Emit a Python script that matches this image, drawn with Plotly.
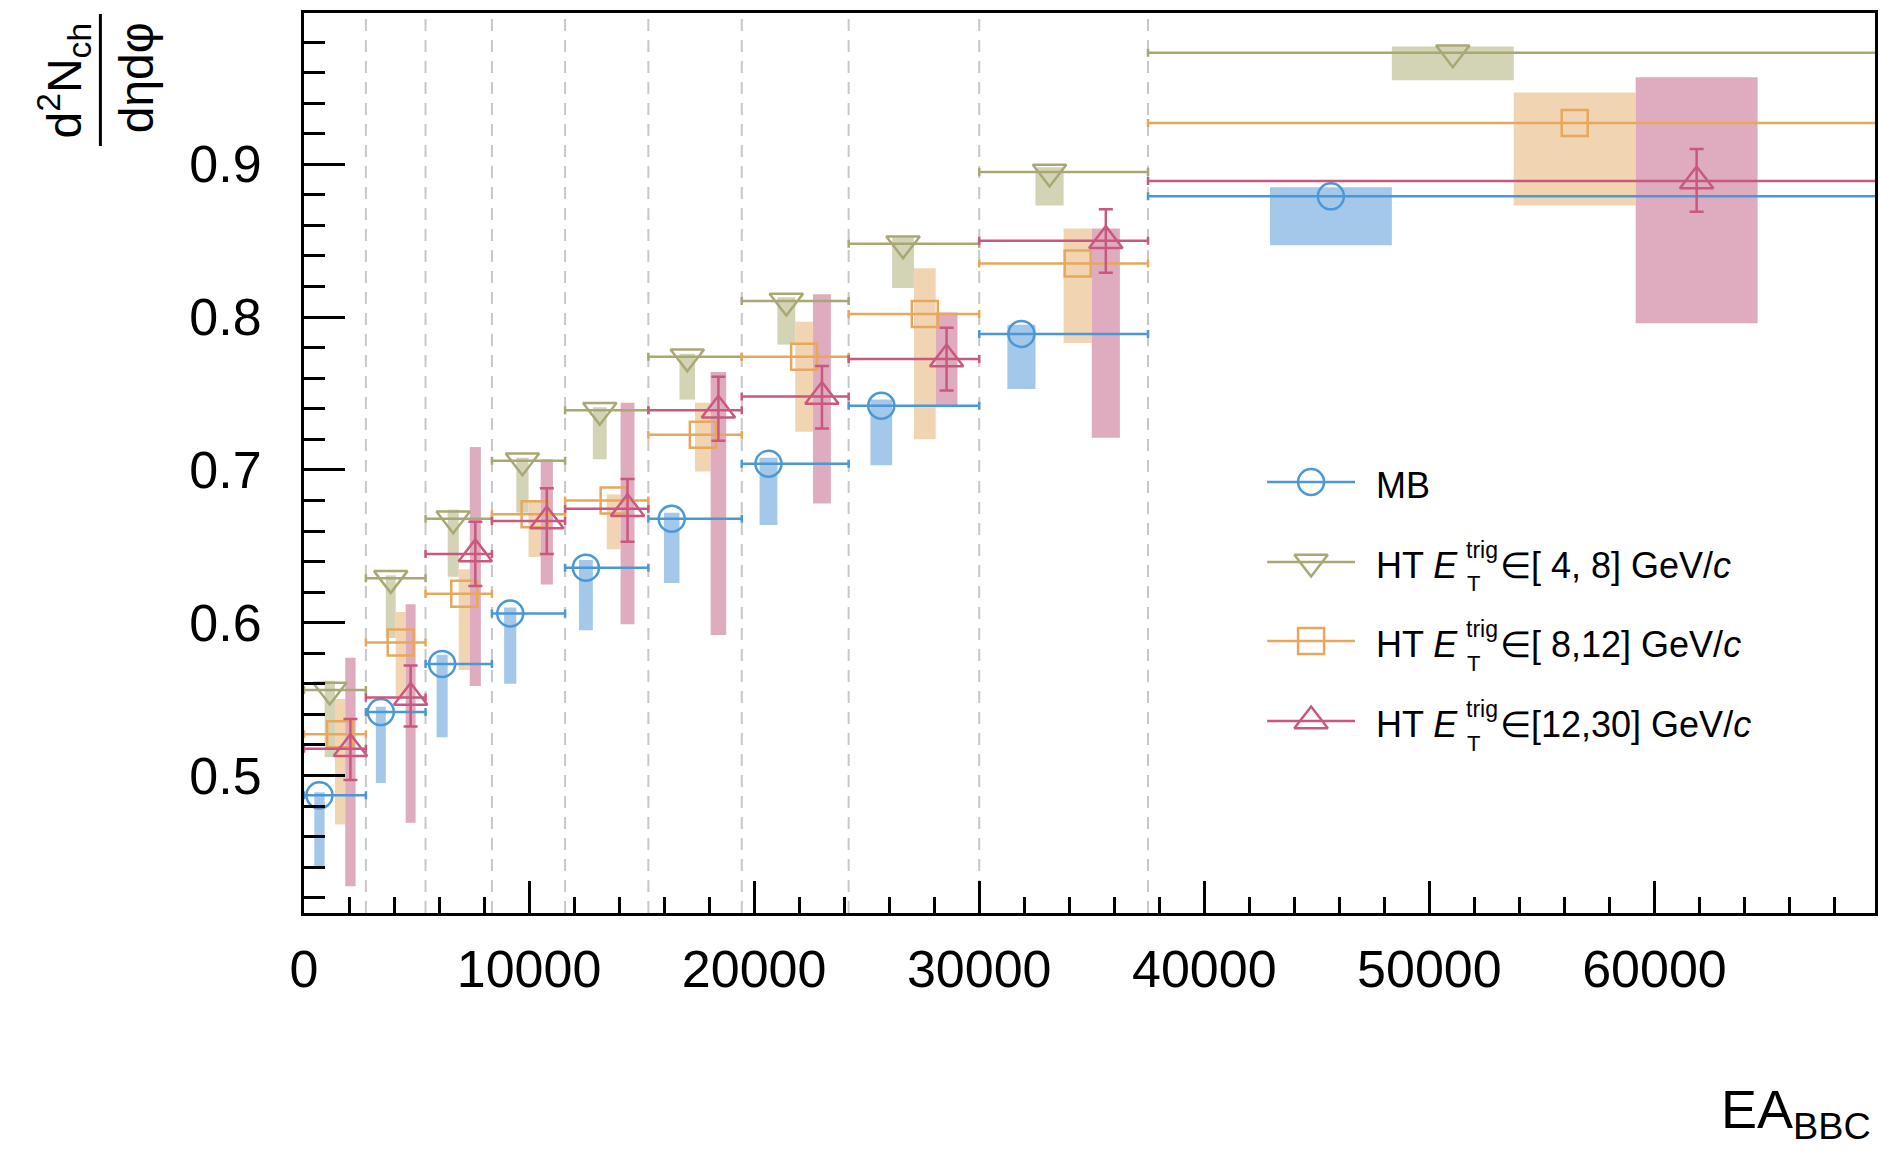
import plotly.graph_objects as go

# ---------------- data ----------------
bin_edges = [0, 2750, 5400, 8350, 11600, 15300, 19450, 24200, 30000, 37500, 70000]

mb_val    = [0.487, 0.5415, 0.573, 0.606, 0.636, 0.668, 0.704, 0.742, 0.789, 0.879]
mb_sys_hi = [0.489, 0.545, 0.579, 0.610, 0.641, 0.672, 0.708, 0.746, 0.795, 0.885]
mb_sys_lo = [0.439, 0.495, 0.525, 0.560, 0.595, 0.626, 0.664, 0.703, 0.753, 0.847]

ht48_val    = [0.556, 0.629, 0.668, 0.706, 0.739, 0.774, 0.8105, 0.848, 0.895, 0.973]
ht48_sys_hi = [0.562, 0.631, 0.674, 0.708, 0.741, 0.776, 0.813, 0.852, 0.898, 0.977]
ht48_sys_lo = [0.512, 0.590, 0.630, 0.672, 0.707, 0.746, 0.782, 0.819, 0.873, 0.955]

ht812_val    = [0.527, 0.587, 0.619, 0.671, 0.680, 0.723, 0.774, 0.802, 0.835, 0.927]
ht812_sys_hi = [0.550, 0.607, 0.635, 0.680, 0.684, 0.744, 0.797, 0.832, 0.858, 0.947]
ht812_sys_lo = [0.468, 0.551, 0.569, 0.643, 0.648, 0.699, 0.725, 0.720, 0.783, 0.873]

ht1230_val     = [0.5175, 0.551, 0.645, 0.6665, 0.6745, 0.739, 0.748, 0.7725, 0.850, 0.889]
ht1230_stat_hi = [0.537, 0.572, 0.666, 0.688, 0.694, 0.761, 0.768, 0.793, 0.8705, 0.910]
ht1230_stat_lo = [0.497, 0.532, 0.624, 0.645, 0.653, 0.719, 0.727, 0.752, 0.829, 0.869]
ht1230_sys_hi  = [0.577, 0.612, 0.715, 0.707, 0.744, 0.764, 0.815, 0.803, 0.858, 0.957]
ht1230_sys_lo  = [0.4275, 0.469, 0.5585, 0.625, 0.599, 0.592, 0.678, 0.741, 0.721, 0.796]

legend_labels = [
    "MB",
    ("HT <i>E</i>", "∈[ 4, 8] GeV/<i>c</i>"),
    ("HT <i>E</i>", "∈[ 8,12] GeV/<i>c</i>"),
    ("HT <i>E</i>", "∈[12,30] GeV/<i>c</i>"),
]

# ---------------- style ----------------
FONT = "Liberation Sans, Arial, Helvetica, sans-serif"
series = [
    dict(val=mb_val, hi=mb_sys_hi, lo=mb_sys_lo, line="#4b98d6", box="#a3c8ea",
         symbol="circle-open", size=26, slot=0, stat=None),
    dict(val=ht48_val, hi=ht48_sys_hi, lo=ht48_sys_lo, line="#a9a874", box="#d3d3b5",
         symbol="triangle-down-open", size=29, slot=1, stat=None),
    dict(val=ht812_val, hi=ht812_sys_hi, lo=ht812_sys_lo, line="#e8a85c", box="#f1d4b1",
         symbol="square-open", size=26, slot=2, stat=None),
    dict(val=ht1230_val, hi=ht1230_sys_hi, lo=ht1230_sys_lo, line="#c9587f", box="#deabbf",
         symbol="triangle-up-open", size=29, slot=3, stat=(ht1230_stat_hi, ht1230_stat_lo)),
]

lows = bin_edges[:-1]
highs = bin_edges[1:]
widths = [h - l for l, h in zip(lows, highs)]

fig = go.Figure()

# systematic boxes
for s in series:
    xs = [l + (s["slot"] + 1.5) * w / 6 for l, w in zip(lows, widths)]
    s["x"] = xs
    fig.add_trace(go.Bar(
        x=xs, y=[h - l for h, l in zip(s["hi"], s["lo"])], base=s["lo"],
        width=[w / 6 for w in widths],
        marker=dict(color=s["box"], line=dict(width=0)),
        hoverinfo="skip", showlegend=False))

# points with errors
for s in series:
    xs = s["x"]
    ey = None
    if s["stat"] is not None:
        shi, slo = s["stat"]
        ey = dict(type="data", symmetric=False,
                  array=[a - v for a, v in zip(shi, s["val"])],
                  arrayminus=[v - b for b, v in zip(slo, s["val"])],
                  color=s["line"], thickness=2.5, width=7)
    fig.add_trace(go.Scatter(
        x=xs, y=s["val"], mode="markers",
        marker=dict(symbol=s["symbol"], size=s["size"], color=s["line"],
                    line=dict(width=2.5, color=s["line"])),
        error_x=dict(type="data", symmetric=False,
                     array=[h - x for h, x in zip(highs, xs)],
                     arrayminus=[x - l for l, x in zip(lows, xs)],
                     color=s["line"], thickness=2.5, width=4),
        error_y=ey, hoverinfo="skip", showlegend=False))

# dashed bin boundaries
shapes = []
for e in bin_edges[1:-1]:
    shapes.append(dict(type="line", xref="x", yref="paper", x0=e, x1=e, y0=0, y1=1,
                       line=dict(color="#c8c8c8", width=2, dash="12px,9px"), layer="below"))

# ---------------- custom legend ----------------
L, R, T, B = 304, 3, 13, 239
W, H = 1881, 1152
pw, ph = W - L - R, H - T - B
def px(xp): return (xp - L) / pw
def py(yp): return (H - B - yp) / ph

rows = [482, 562, 641, 721]
annotations = []
for s, lab, ry in zip(series, legend_labels, rows):
    shapes.append(dict(type="line", xref="paper", yref="paper", x0=px(1269), x1=px(1357),
                       y0=py(ry), y1=py(ry), line=dict(color=s["line"], width=2.5)))
    fig.add_trace(go.Scatter(
        x=[px(1313)], y=[py(ry)], xaxis="x2", yaxis="y2", mode="markers",
        marker=dict(symbol=s["symbol"], size=s["size"], color=s["line"],
                    line=dict(width=2.5, color=s["line"])),
        hoverinfo="skip", showlegend=False))
    if isinstance(lab, str):
        annotations.append(dict(text=lab, xref="paper", yref="paper", x=px(1376), y=py(ry + 3),
                                xanchor="left", yanchor="middle", showarrow=False,
                                font=dict(size=36, family=FONT, color="black")))
    else:
        annotations.append(dict(text=lab[0], xref="paper", yref="paper", x=px(1376), y=py(ry + 3),
                                xanchor="left", yanchor="middle", showarrow=False,
                                font=dict(size=36, family=FONT, color="black")))
        annotations.append(dict(text="trig", xref="paper", yref="paper", x=px(1466), y=py(ry - 12),
                                xanchor="left", yanchor="middle", showarrow=False,
                                font=dict(size=23, family=FONT, color="black")))
        annotations.append(dict(text="T", xref="paper", yref="paper", x=px(1467), y=py(ry + 22),
                                xanchor="left", yanchor="middle", showarrow=False,
                                font=dict(size=22, family=FONT, color="black")))
        annotations.append(dict(text=lab[1], xref="paper", yref="paper", x=px(1500), y=py(ry + 3),
                                xanchor="left", yanchor="middle", showarrow=False,
                                font=dict(size=36, family=FONT, color="black")))

# y-axis title (fraction)
annotations.append(dict(text="d<sup>2</sup>N<sub>ch</sub>", xref="paper", yref="paper",
                        x=px(64), y=py(80), xanchor="center", yanchor="middle", textangle=-90,
                        showarrow=False, font=dict(size=48, family=FONT, color="black")))
annotations.append(dict(text="dηdφ", xref="paper", yref="paper",
                        x=px(137), y=py(78), xanchor="center", yanchor="middle", textangle=-90,
                        showarrow=False, font=dict(size=48, family=FONT, color="black")))
shapes.append(dict(type="line", xref="paper", yref="paper", x0=px(100), x1=px(100),
                   y0=py(14), y1=py(146), line=dict(color="black", width=3)))
# x-axis title
annotations.append(dict(text="EA<sub>BBC</sub>", xref="paper", yref="paper",
                        x=px(1876), y=py(1113), xanchor="right", yanchor="middle",
                        showarrow=False, font=dict(size=54, family=FONT, color="black")))

fig.update_layout(
    width=W, height=H, margin=dict(l=L, r=R, t=T, b=B, pad=0),
    paper_bgcolor="white", plot_bgcolor="white", barmode="overlay",
    showlegend=False, shapes=shapes, annotations=annotations,
    font=dict(family=FONT, color="black"),
    xaxis=dict(range=[0, 69800], tick0=0, dtick=10000, tickformat="d", ticks="inside",
               ticklen=32, tickwidth=3,
               tickcolor="black", showline=True, linewidth=3, linecolor="black", mirror=True,
               showgrid=False, zeroline=False, tickfont=dict(size=52, family=FONT, color="black"),
               ticklabelstandoff=9,
               minor=dict(tick0=0, dtick=2000, ticks="inside", ticklen=16, tickwidth=3,
                          tickcolor="black", showgrid=False)),
    yaxis=dict(range=[0.41, 0.999], tick0=0, dtick=0.1, tickformat=".1f", ticks="inside",
               ticklen=41, tickwidth=3, tickcolor="black", showline=True, linewidth=3,
               linecolor="black", mirror=True, showgrid=False, zeroline=False,
               tickfont=dict(size=52, family=FONT, color="black"), ticklabelstandoff=29,
               minor=dict(tick0=0, dtick=0.02, ticks="inside", ticklen=21, tickwidth=3,
                          tickcolor="black", showgrid=False)),
    xaxis2=dict(overlaying="x", range=[0, 1], visible=False, fixedrange=True),
    yaxis2=dict(overlaying="y", range=[0, 1], visible=False, fixedrange=True),
)

fig.write_html("out.html")
